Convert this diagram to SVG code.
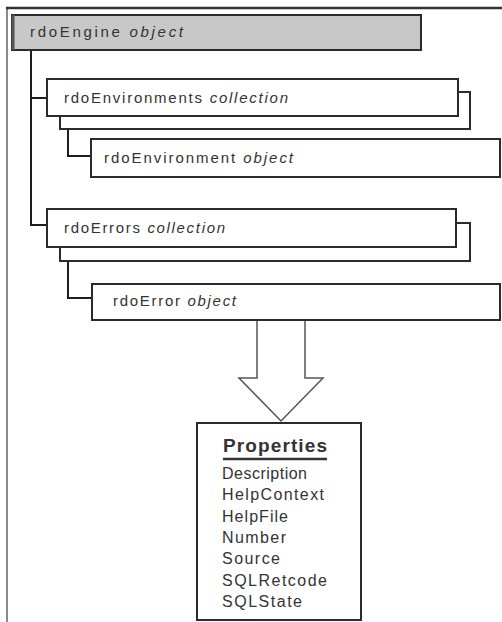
<svg xmlns="http://www.w3.org/2000/svg" width="502" height="622" viewBox="0 0 502 622">
<style>
  .box { fill: #ffffff; stroke: #2b2b2b; stroke-width: 2; }
  .shadow { fill: #ffffff; stroke: #2b2b2b; stroke-width: 2; }
  .conn { fill: none; stroke: #1e1e1e; stroke-width: 2; }
  .lbl { font-family: "Liberation Sans", Arial, sans-serif; font-size: 15px; fill: #333333; }
  .item { font-family: "Liberation Sans", Arial, sans-serif; font-size: 16px; fill: #333333; }
  .it { font-style: italic; }
</style>
<rect x="0" y="0" width="502" height="622" fill="#ffffff"/>
<g id="frame">
  <line x1="7" y1="8" x2="7" y2="622" stroke="#8a8a8a" stroke-width="2"/>
  <line x1="6" y1="8" x2="502" y2="8" stroke="#333333" stroke-width="2.5"/>
</g>
<g id="connectors">
  <polyline class="conn" points="31,50 31,225 47,225"/>
  <line class="conn" x1="31" y1="98" x2="47" y2="98"/>
  <polyline class="conn" points="68,116 68,156 91,156"/>
  <polyline class="conn" points="68,247 68,298 92,298"/>
  <path d="M257,320 V378 H239 L281,421 L323,378 H305 V320" fill="#ffffff" stroke="#555555" stroke-width="1.5"/>
</g>
<g id="rdoEngine">
  <rect x="12" y="15" width="409" height="35" fill="#c8c8c8" stroke="#2b2b2b" stroke-width="2"/>
  <line x1="13" y1="15" x2="13" y2="50" stroke="#555555" stroke-width="3"/>
  <text class="lbl" x="30" y="37" textLength="153" lengthAdjust="spacing">rdoEngine <tspan class="it">object</tspan></text>
</g>
<g id="rdoEnvironments">
  <rect class="shadow" x="60" y="92" width="410" height="37"/>
  <rect class="box" x="47" y="79" width="411" height="37"/>
  <text class="lbl" x="64" y="103" textLength="224" lengthAdjust="spacing">rdoEnvironments <tspan class="it">collection</tspan></text>
</g>
<g id="rdoEnvironment">
  <rect class="box" x="91" y="139" width="409" height="38"/>
  <text class="lbl" x="104" y="163" textLength="189" lengthAdjust="spacing">rdoEnvironment <tspan class="it">object</tspan></text>
</g>
<g id="rdoErrors">
  <rect class="shadow" x="60" y="223" width="410" height="38"/>
  <rect class="box" x="47" y="209" width="409" height="38"/>
  <text class="lbl" x="64" y="233" textLength="161" lengthAdjust="spacing">rdoErrors <tspan class="it">collection</tspan></text>
</g>
<g id="rdoError">
  <rect class="box" x="92" y="284" width="408" height="36"/>
  <text class="lbl" x="113" y="306" textLength="123" lengthAdjust="spacing">rdoError <tspan class="it">object</tspan></text>
</g>
<g id="properties">
  <rect class="box" x="197" y="423" width="164" height="197"/>
  <text x="223" y="452" font-family="Liberation Sans, Arial, sans-serif" font-size="19" font-weight="bold" fill="#333333" textLength="104" lengthAdjust="spacing">Properties</text>
  <line x1="223" y1="459" x2="327" y2="459" stroke="#333333" stroke-width="2.5"/>
  <text class="item" x="222" y="479" textLength="85" lengthAdjust="spacing">Description</text>
  <text class="item" x="222" y="500" textLength="102" lengthAdjust="spacing">HelpContext</text>
  <text class="item" x="222" y="522" textLength="66" lengthAdjust="spacing">HelpFile</text>
  <text class="item" x="222" y="543" textLength="64" lengthAdjust="spacing">Number</text>
  <text class="item" x="222" y="564" textLength="58" lengthAdjust="spacing">Source</text>
  <text class="item" x="222" y="586" textLength="105" lengthAdjust="spacing">SQLRetcode</text>
  <text class="item" x="222" y="607" textLength="80" lengthAdjust="spacing">SQLState</text>
</g>
</svg>
